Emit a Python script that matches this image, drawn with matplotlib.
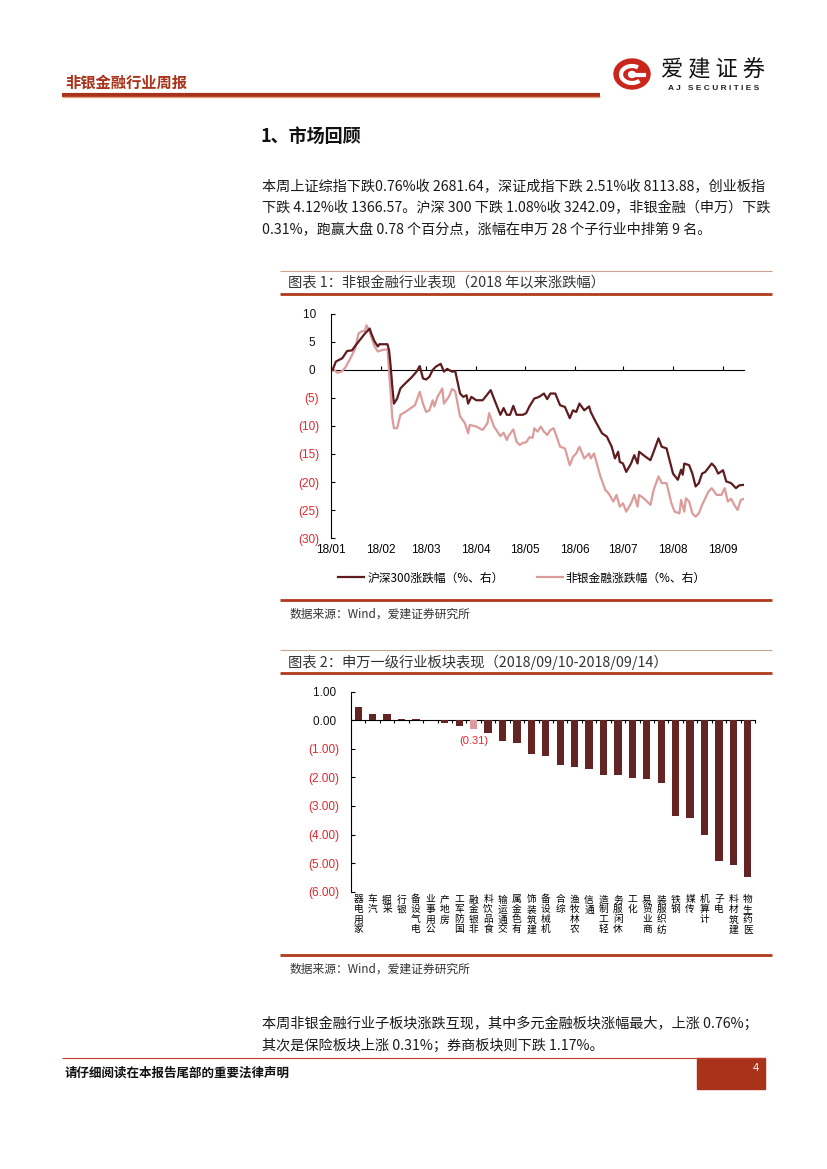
import numpy as np
import pandas as pd
import matplotlib
matplotlib.use("Agg")
import matplotlib.pyplot as plt
from matplotlib.lines import Line2D
from matplotlib.patches import Rectangle, Ellipse, Arc
import matplotlib.dates as mdates

plt.rcParams['font.family'] = ['Noto Sans CJK SC', 'DejaVu Sans']
NUM = ['Liberation Sans', 'Noto Sans CJK SC']

# ---- 图表1: 2018年以来涨跌幅 (%) ----
hs300_days = ['01-02', '01-04', '01-08', '01-11', '01-14', '01-16', '01-19', '01-22', '01-25', '01-26',
              '01-28', '01-30', '01-31', '02-05', '02-06', '02-07', '02-08', '02-09', '02-11', '02-13',
              '02-16', '02-20', '02-23', '02-25', '02-27', '03-01', '03-03', '03-05', '03-07', '03-10',
              '03-12', '03-14', '03-17', '03-19', '03-22', '03-24', '03-26', '03-27', '03-29', '04-01',
              '04-05', '04-10', '04-12', '04-16', '04-18', '04-20', '04-22', '04-24', '04-26', '04-30',
              '05-02', '05-04', '05-07', '05-10', '05-13', '05-15', '05-17', '05-20', '05-23', '05-26',
              '05-29', '05-31', '06-02', '06-04', '06-07', '06-10', '06-11', '06-14', '06-18', '06-21',
              '06-24', '06-26', '06-28', '06-29', '07-01', '07-03', '07-06', '07-08', '07-10', '07-11',
              '07-15', '07-18', '07-20', '07-23', '07-25', '07-28', '08-01', '08-04', '08-06', '08-07',
              '08-08', '08-11', '08-13', '08-15', '08-17', '08-19', '08-21', '08-25', '08-27', '08-29',
              '09-01', '09-03', '09-06', '09-09', '09-11', '09-14']
hs300_chg = [0.0, 1.5, 2.1, 3.4, 3.5, 4.3, 5.4, 6.5, 7.4, 6.5,
             5.1, 4.2, 4.6, 4.6, 3.5, 0.6, -3.0, -6.0, -5.1, -3.3,
             -2.4, -1.3, -0.3, 0.7, -1.5, -1.7, -1.2, 0.0, 0.6, 1.1,
             -0.3, 0.2, -0.3, -0.2, -4.2, -4.8, -4.5, -6.0, -4.8, -5.4,
             -5.4, -3.6, -5.1, -8.0, -6.8, -8.0, -8.0, -6.4, -8.0, -8.0,
             -7.7, -6.5, -5.1, -4.8, -4.2, -5.2, -4.2, -4.2, -6.3, -6.6,
             -8.6, -7.2, -7.5, -6.0, -7.2, -6.5, -7.5, -9.2, -11.3, -11.9,
             -13.7, -15.8, -14.6, -16.4, -16.7, -18.2, -16.7, -15.2, -16.7, -14.6,
             -15.5, -16.1, -14.6, -12.2, -13.7, -14.0, -18.5, -19.6, -17.8, -18.7,
             -16.7, -17.0, -18.5, -20.8, -20.2, -18.5, -18.2, -16.7, -17.3, -18.5,
             -17.9, -19.9, -20.2, -21.1, -20.6, -20.5]

fin_days = ['01-02', '01-05', '01-08', '01-10', '01-13', '01-16', '01-18', '01-20', '01-22', '01-23',
            '01-25', '01-26', '01-28', '01-30', '02-02', '02-05', '02-07', '02-08', '02-09', '02-11',
            '02-13', '02-16', '02-19', '02-22', '02-25', '02-27', '03-01', '03-03', '03-05', '03-06',
            '03-08', '03-11', '03-12', '03-15', '03-17', '03-19', '03-22', '03-25', '03-27', '03-28',
            '04-01', '04-05', '04-08', '04-09', '04-12', '04-16', '04-18', '04-20', '04-21', '04-24',
            '04-26', '04-28', '04-30', '05-02', '05-04', '05-06', '05-07', '05-09', '05-11', '05-13',
            '05-15', '05-17', '05-19', '05-21', '05-23', '05-26', '05-29', '05-31', '06-02', '06-04',
            '06-07', '06-10', '06-11', '06-13', '06-17', '06-20', '06-22', '06-25', '06-27', '06-29',
            '07-01', '07-03', '07-06', '07-08', '07-10', '07-11', '07-15', '07-18', '07-20', '07-23',
            '07-25', '07-28', '07-31', '08-02', '08-05', '08-06', '08-08', '08-09', '08-11', '08-13',
            '08-15', '08-17', '08-19', '08-23', '08-25', '08-28', '08-31', '09-02', '09-04', '09-06',
            '09-08', '09-10', '09-12', '09-14']
fin_chg = [0.2, -0.5, -0.2, 0.5, 2.1, 3.8, 6.5, 6.9, 7.0, 8.0,
           6.8, 5.9, 4.2, 3.3, 3.6, 3.7, -4.2, -8.6, -10.4, -10.4,
           -8.0, -7.5, -6.9, -6.3, -3.9, -6.0, -7.5, -7.2, -5.4, -6.5,
           -4.8, -3.3, -6.0, -4.8, -3.4, -3.8, -8.3, -9.5, -11.3, -9.8,
           -10.1, -10.7, -9.5, -7.7, -10.1, -11.8, -11.2, -12.5, -11.8, -10.6,
           -12.8, -13.4, -13.0, -12.9, -12.0, -12.1, -10.4, -11.0, -10.1, -11.0,
           -11.6, -10.7, -10.4, -12.0, -13.7, -14.0, -17.0, -15.5, -14.9, -13.7,
           -15.8, -14.9, -15.8, -14.9, -19.0, -21.4, -22.0, -23.5, -22.3, -24.4,
           -23.8, -25.3, -23.8, -22.3, -24.4, -22.3, -23.2, -24.1, -21.4, -19.0,
           -20.2, -20.2, -23.8, -25.3, -25.6, -23.2, -25.3, -22.9, -23.5, -25.6,
           -26.2, -25.6, -24.1, -21.7, -21.1, -22.3, -22.3, -21.1, -23.5, -23.0,
           -24.1, -25.0, -23.2, -23.0]

# ---- 图表2: 申万一级行业周涨跌幅 (%) ----
industries = ['家用电器', '汽车', '采掘', '银行', '电气设备', '公用事业', '房地产', '国防军工',
              '非银金融', '食品饮料', '交通运输', '有色金属', '建筑装饰', '机械设备', '综合',
              '农林牧渔', '通信', '轻工制造', '休闲服务', '化工', '商业贸易', '纺织服装', '钢铁',
              '传媒', '计算机', '电子', '建筑材料', '医药生物']
industry_chg = [0.47, 0.22, 0.21, 0.05, 0.03, 0.02, -0.10, -0.21, -0.31, -0.43, -0.73, -0.79,
                -1.19, -1.25, -1.56, -1.63, -1.69, -1.92, -1.93, -2.02, -2.05, -2.20, -3.35,
                -3.42, -4.01, -4.93, -5.05, -5.48]
highlight = '非银金融'

DARK = '#5e1c1f'
PINK = '#dc9c9c'
RED = '#e0282e'
BRICK = '#b23a1c'
W, H = 827, 1169

fig = plt.figure(figsize=(W / 100, H / 100), dpi=100)


def fx(x):
    return x / W


def fy(y):
    return 1 - y / H


def hline(x0, x1, y, lw, color):
    fig.add_artist(Line2D([fx(x0), fx(x1)], [fy(y), fy(y)], transform=fig.transFigure,
                          lw=lw, color=color, solid_capstyle='butt'))


def text(x, y, s, **kw):
    kw.setdefault('va', 'center')
    kw.setdefault('color', '#1a1a1a')
    fig.text(fx(x), fy(y), s, **kw)


# 页眉
text(65, 83, '非银金融行业周报', fontsize=11, fontweight='bold', color='#a8321a')
hline(62, 600, 94.5, 3, '#a8321a')
hline(62, 600, 96.5, 1, '#e9a27e')
lax = fig.add_axes([fx(613), fy(91), 38 / W, 34 / H])
lax.set_xlim(0, 38)
lax.set_ylim(0, 34)
lax.axis('off')
lax.add_patch(Ellipse((19, 17), 36, 30, color='#c9261c'))
lax.add_patch(Arc((19, 16.5), 22, 17, theta1=50, theta2=320, lw=3, color='white'))
lax.add_artist(Line2D([19, 31], [16.5, 16.5], lw=3, color='white'))
lax.add_patch(Ellipse((19, 16.5), 7, 6, color='white'))
text(713, 70, '爱 建 证 券', fontsize=16, ha='center', color='#111111', fontweight='medium')
text(714, 88, 'A J   S E C U R I T I E S', fontsize=6, ha='center', fontweight='bold',
     family=NUM, color='#222222')

# 正文
text(260, 137, '1、市场回顾', fontsize=13, fontweight='bold', color='#111111')
body = ['本周上证综指下跌0.76%收 2681.64，深证成指下跌 2.51%收 8113.88，创业板指',
        '下跌 4.12%收 1366.57。沪深 300 下跌 1.08%收 3242.09，非银金融（申万）下跌',
        '0.31%，跑赢大盘 0.78 个百分点，涨幅在申万 28 个子行业中排第 9 名。']
for i, line in enumerate(body):
    text(262, 187 + i * 21.5, line, fontsize=10.2)

# 图表1 标题框
hline(280, 772, 271, 0.8, '#c9a48e')
text(288, 283, '图表 1：非银金融行业表现（2018 年以来涨跌幅）', fontsize=10.3, color='#333333')
hline(280, 772, 294, 2, BRICK)

ax1 = fig.add_axes([fx(331), fy(538), 413 / W, 224 / H])
d1 = pd.to_datetime(['2018-' + d for d in hs300_days])
d2 = pd.to_datetime(['2018-' + d for d in fin_days])
ax1.plot(d2, fin_chg, color=PINK, lw=1.6, label='非银金融涨跌幅（%、右）', zorder=2)
ax1.plot(d1, hs300_chg, color=DARK, lw=1.6, label='沪深300涨跌幅（%、右）', zorder=3)
ax1.set_xlim(pd.Timestamp('2018-01-01'), pd.Timestamp('2018-09-14'))
ax1.set_ylim(-30, 10)
for s in ['top', 'right', 'bottom']:
    ax1.spines[s].set_visible(False)
ax1.spines['left'].set_linewidth(0.8)
months = pd.date_range('2018-01-01', '2018-09-01', freq='MS')
ax1.set_xticks(months)
ax1.xaxis.set_major_formatter(mdates.DateFormatter('%y/%m'))
ax1.tick_params(axis='x', length=0, pad=4, labelsize=8.5)
yt1 = [10, 5, 0, -5, -10, -15, -20, -25, -30]
ax1.set_yticks(yt1)
ax1.set_yticklabels([f'({-v})' if v < 0 else f'{v} ' for v in yt1])
ax1.tick_params(axis='y', direction='in', length=3, width=0.8, pad=8.5, labelsize=8.5)
for lab, v in zip(ax1.get_yticklabels(), yt1):
    lab.set_color(RED if v < 0 else '#111111')
for lab in ax1.get_xticklabels() + ax1.get_yticklabels():
    lab.set_family(NUM)
sec1 = ax1.secondary_xaxis(0, transform=ax1.transData)
sec1.set_xticks(months)
sec1.tick_params(direction='in', length=3, width=0.8, labelbottom=False, labeltop=False)
sec1.spines['bottom'].set_linewidth(0.8)
sec1.spines['top'].set_linewidth(0.8)
h, l = ax1.get_legend_handles_labels()
fig.legend(h[::-1], l[::-1], loc='center', bbox_to_anchor=(fx(522), fy(578)),
           bbox_transform=fig.transFigure, ncol=2, frameon=False, fontsize=8.5,
           handlelength=2.2, handletextpad=0.25, columnspacing=2.8)

hline(280, 772, 600, 2, BRICK)
text(290, 614, '数据来源：Wind，爱建证券研究所', fontsize=8.5, color='#333333')

# 图表2 标题框
hline(280, 772, 650, 0.8, '#c9a48e')
text(288, 662, '图表 2：申万一级行业板块表现（2018/09/10-2018/09/14）', fontsize=10.3, color='#333333')
hline(280, 772, 673, 2, BRICK)

ax2 = fig.add_axes([fx(351), fy(891.7), 404 / W, 200 / H])
xs = np.arange(len(industries))
colors = [PINK if n == highlight else '#632523' for n in industries]
ax2.bar(xs, industry_chg, width=0.5, color=colors, zorder=2)
k = industries.index(highlight)
ax2.annotate(f'({abs(industry_chg[k]):.2f})', xy=(xs[k], industry_chg[k]), xytext=(0, -5),
             textcoords='offset points', ha='center', va='top', color=RED, fontsize=8,
             family=NUM)
ax2.set_xlim(-0.5, len(industries) - 0.5)
ax2.set_ylim(-6, 1)
for s in ['top', 'right', 'bottom']:
    ax2.spines[s].set_visible(False)
ax2.spines['left'].set_linewidth(0.8)
ax2.set_xticks(xs)
ax2.set_xticklabels(['\n'.join(reversed(n)) for n in industries], fontsize=7, linespacing=1.0)
ax2.tick_params(axis='x', length=0, pad=2)
yt2 = [1, 0, -1, -2, -3, -4, -5, -6]
ax2.set_yticks(yt2)
ax2.set_yticklabels([f'({-v:.2f})' if v < 0 else f'{v:.2f} ' for v in yt2])
ax2.tick_params(axis='y', direction='in', length=3, width=0.8, pad=8.5, labelsize=8.5)
for lab, v in zip(ax2.get_yticklabels(), yt2):
    lab.set_color(RED if v < 0 else '#111111')
    lab.set_family(NUM)
sec2 = ax2.secondary_xaxis(0, transform=ax2.transData)
sec2.set_xticks(xs + 0.5)
sec2.tick_params(direction='out', length=2.5, width=0.8, labelbottom=False, labeltop=False)
sec2.spines['bottom'].set_linewidth(0.8)
sec2.spines['top'].set_linewidth(0.8)

hline(280, 772, 955, 2, BRICK)
text(290, 969, '数据来源：Wind，爱建证券研究所', fontsize=8.5, color='#333333')

# 结尾段落
tail = ['本周非银金融行业子板块涨跌互现，其中多元金融板块涨幅最大，上涨 0.76%；',
        '其次是保险板块上涨 0.31%；券商板块则下跌 1.17%。']
for i, line in enumerate(tail):
    text(262, 1024 + i * 22, line, fontsize=10.2)

# 页脚
hline(62, 765, 1058, 0.8, '#c0392b')
fig.add_artist(Rectangle((fx(697), fy(1089)), 68 / W, 31 / H, transform=fig.transFigure,
                         color='#a8321a'))
text(759, 1068, '4', fontsize=8, color='white', ha='right', family=NUM)
text(65, 1073, '请仔细阅读在本报告尾部的重要法律声明', fontsize=9, fontweight='bold', color='#111111')

fig.savefig('out.png', dpi=100)
